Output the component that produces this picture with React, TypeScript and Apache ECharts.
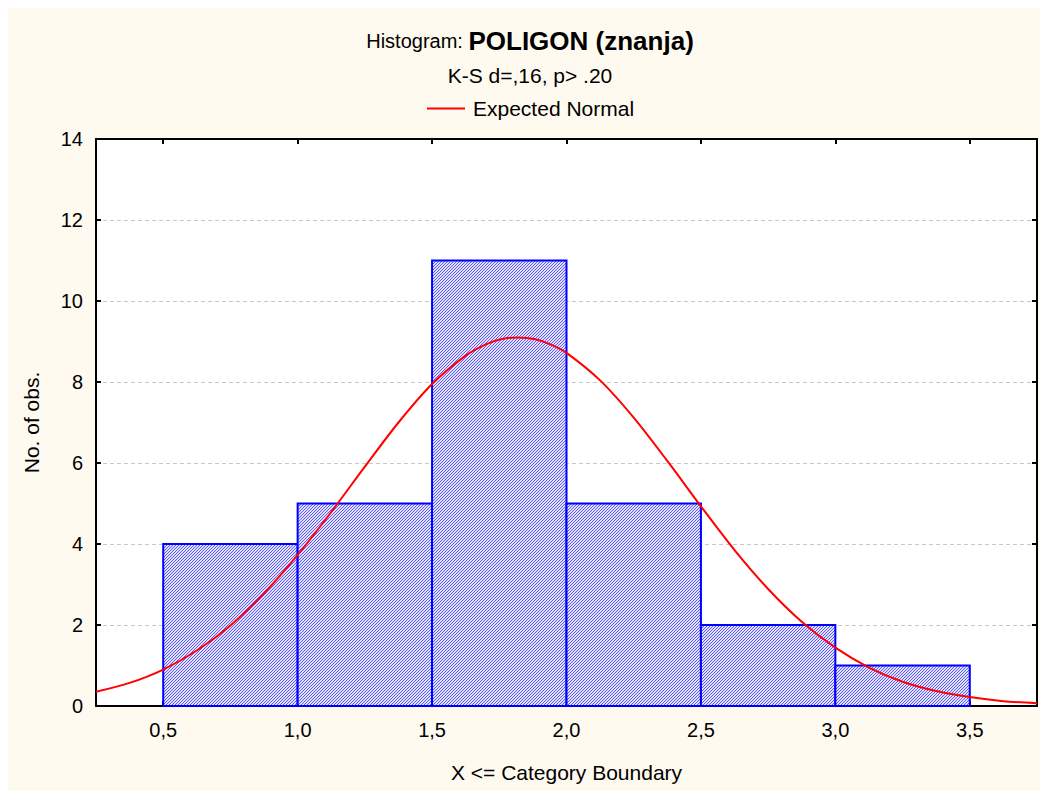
import React, { useEffect, useRef } from "react";
import * as echarts from "echarts";

// Histogram bins: lower boundary, upper boundary, count
const binLower = [0.5, 1.0, 1.5, 2.0, 2.5, 3.0];
const binUpper = [1.0, 1.5, 2.0, 2.5, 3.0, 3.5];
const binCounts = [4, 5, 11, 5, 2, 1];

// Expected normal curve
const curveX = [0.25, 0.375, 0.5, 0.625, 0.75, 0.875, 1.0, 1.125, 1.25, 1.375, 1.5, 1.625, 1.7, 1.76, 1.82, 1.88, 1.94, 2.0, 2.125, 2.25, 2.375, 2.5, 2.625, 2.75, 2.875, 3.0, 3.125, 3.25, 3.375, 3.5, 3.625, 3.75];
const curveY = [0.35, 0.57, 0.9, 1.37, 1.99, 2.78, 3.73, 4.79, 5.91, 7.0, 7.95, 8.65, 8.93, 9.06, 9.1, 9.06, 8.93, 8.72, 8.04, 7.12, 6.05, 4.93, 3.85, 2.89, 2.08, 1.44, 0.95, 0.6, 0.37, 0.22, 0.12, 0.07];

// Tick labels
const xTickValues = [0.5, 1.0, 1.5, 2.0, 2.5, 3.0, 3.5];
const yMin = 0;
const yMax = 14;
const yStep = 2;
const xMin = 0.25;
const xMax = 3.75;

const titleLabel = "Histogram: ";
const titleBold = "POLIGON (znanja)";
const subtitle = "K-S d=,16, p> .20";
const legendName = "Expected Normal";
const xName = "X <= Category Boundary";
const yName = "No. of obs.";

const FONT = "Arial, 'Liberation Sans', sans-serif";

if (typeof document !== "undefined") {
  document.body.style.margin = "8px 0 0 8px";
  document.documentElement.style.overflow = "hidden";
}

function makeHatch() {
  const c = document.createElement("canvas");
  c.width = 3;
  c.height = 3;
  const ctx = c.getContext("2d")!;
  ctx.fillStyle = "#e2e2ff";
  ctx.fillRect(0, 0, 3, 3);
  ctx.fillStyle = "#5858ff";
  for (let x = 0; x < 3; x++) {
    const y = (2 - x + 3) % 3;
    ctx.fillRect(x, y, 1, 1);
  }
  return c.toDataURL();
}

export default function App() {
  const ref = useRef<HTMLDivElement>(null);
  useEffect(() => {
    const chart = echarts.init(ref.current!, null, { renderer: "svg" });
    const hatch = { image: makeHatch(), repeat: "repeat", imageWidth: 3, imageHeight: 3 };
    const bins = binLower.map((l, i) => [l, binUpper[i], binCounts[i]]);
    const curve = curveX.map((x, i) => [x, curveY[i]]);
    const fmt = (v: number) => v.toFixed(1).replace(".", ",");
    const tickStyle = { show: true, inside: true, length: 5, lineStyle: { color: "#000", width: 2 } };
    const axisLine = { show: true, onZero: false, lineStyle: { color: "#000", width: 2 } };
    chart.setOption({
      animation: false,
      backgroundColor: "#fffaf0",
      textStyle: { fontFamily: FONT },
      title: [
        {
          text: `{a|${titleLabel}}{b|${titleBold}}`,
          left: 522,
          top: 20,
          textAlign: "center",
          padding: 0,
          textStyle: {
            fontWeight: "normal",
            rich: {
              a: { fontSize: 20, fontWeight: "normal", fontFamily: FONT, color: "#000" },
              b: { fontSize: 26, fontWeight: "bold", fontFamily: FONT, color: "#000" },
            },
          },
        },
        {
          text: subtitle,
          left: 522,
          top: 57,
          textAlign: "center",
          padding: 0,
          textStyle: { fontSize: 21, fontWeight: "normal", fontFamily: FONT, color: "#000" },
        },
      ],
      legend: {
        data: [{ name: legendName, icon: "rect" }],
        left: 419,
        top: 90,
        padding: 0,
        itemWidth: 38,
        itemHeight: 2,
        textStyle: { fontSize: 21, color: "#000", fontFamily: FONT, padding: [0, 0, 0, 3] },
      },
      grid: {
        left: 88,
        right: 3,
        top: 131,
        bottom: 85,
        show: true,
        backgroundColor: "#ffffff",
        borderWidth: 0,
      },
      xAxis: [
        {
          type: "value",
          min: xMin,
          max: xMax,
          position: "bottom",
          axisLine,
          axisTick: { ...tickStyle, customValues: xTickValues },
          axisLabel: {
            customValues: xTickValues,
            formatter: fmt,
            fontSize: 20,
            color: "#000",
            margin: 14,
            fontFamily: FONT,
          },
          splitLine: { show: false },
          name: xName,
          nameLocation: "middle",
          nameGap: 56,
          nameTextStyle: { fontSize: 21, color: "#000", fontFamily: FONT },
        },
        {
          type: "value",
          min: xMin,
          max: xMax,
          position: "top",
          axisLine,
          axisTick: { ...tickStyle, customValues: xTickValues },
          axisLabel: { show: false },
          splitLine: { show: false },
        },
      ],
      yAxis: [
        {
          type: "value",
          min: yMin,
          max: yMax,
          interval: yStep,
          position: "left",
          axisLine,
          axisTick: tickStyle,
          axisLabel: { fontSize: 20, color: "#000", margin: 13, fontFamily: FONT },
          splitLine: { show: true, lineStyle: { color: "#c8c8c8", width: 1, type: [4, 3] } },
          name: yName,
          nameLocation: "middle",
          nameGap: 54,
          nameTextStyle: { fontSize: 21, color: "#000", fontFamily: FONT },
        },
        {
          type: "value",
          min: yMin,
          max: yMax,
          interval: yStep,
          position: "right",
          axisLine,
          axisTick: tickStyle,
          axisLabel: { show: false },
          splitLine: { show: false },
        },
      ],
      series: [
        {
          type: "custom",
          name: "bins",
          xAxisIndex: 0,
          yAxisIndex: 0,
          data: bins,
          renderItem: (params: any, api: any) => {
            const p0 = api.coord([api.value(0), api.value(2)]);
            const p1 = api.coord([api.value(1), 0]);
            return {
              type: "rect",
              shape: { x: p0[0], y: p0[1], width: p1[0] - p0[0], height: p1[1] - p0[1] },
              style: { fill: hatch, stroke: "#0000ff", lineWidth: 2 },
            };
          },
          z: 2,
        },
        {
          type: "line",
          name: legendName,
          xAxisIndex: 0,
          yAxisIndex: 0,
          data: curve,
          smooth: 0.3,
          symbol: "none",
          showSymbol: false,
          lineStyle: { color: "#ff0000", width: 2 },
          itemStyle: { color: "#ff0000" },
          z: 3,
        },
      ],
    });
    return () => chart.dispose();
  }, []);
  return <div ref={ref} style={{ width: 1032, height: 783 }} />;
}
